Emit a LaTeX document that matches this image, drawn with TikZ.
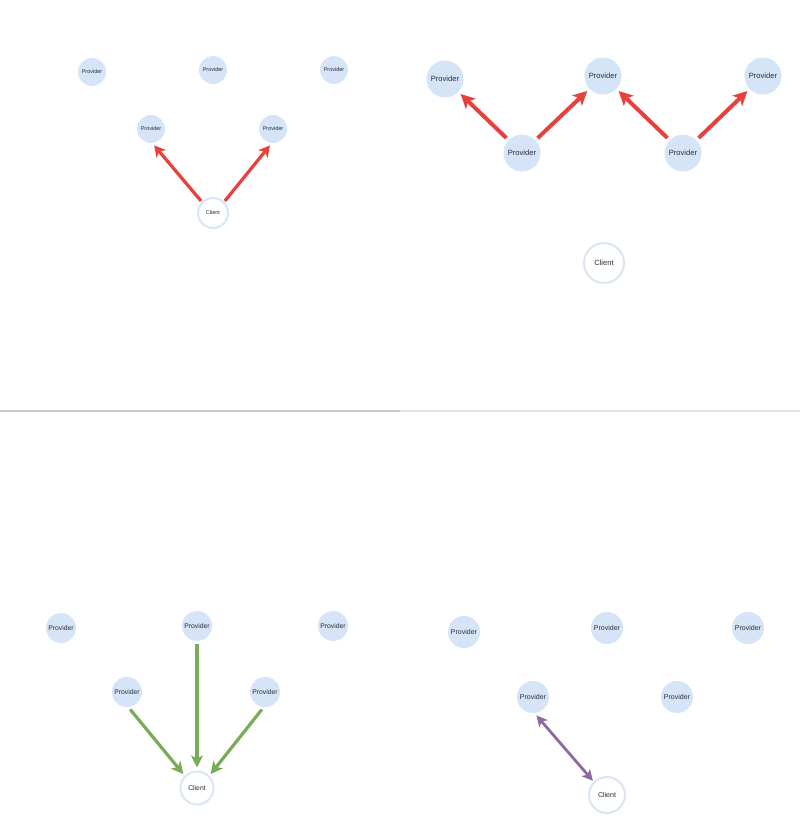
\documentclass[tikz,border=0pt]{standalone}
\usepackage{fontspec}
\setmainfont{Liberation Sans}
\usetikzlibrary{arrows.meta}
\definecolor{provfill}{RGB}{214,228,248}
\definecolor{clientline}{RGB}{218,229,245}
\definecolor{redarr}{RGB}{232,64,58}
\definecolor{greenarr}{RGB}{120,172,88}
\definecolor{purplearr}{RGB}{138,106,160}
\definecolor{textc}{RGB}{40,44,56}
\tikzset{
  prov/.style={circle,fill=provfill,inner sep=0pt,minimum size=#1,text=textc},
  prov/.default=28pt,
  client/.style={circle,fill=white,draw=clientline,line width=2pt,inner sep=0pt,minimum size=#1,text=textc},
  client/.default=30pt,
  redbig/.style={draw=redarr,line width=4pt,-{Stealth[length=14pt,width=14pt,inset=3.5pt]}},
  redsmall/.style={draw=redarr,line width=3.2pt,-{Stealth[length=11pt,width=12pt,inset=3pt]}},
  greenline/.style={draw=greenarr,line width=3.2pt,-{Stealth[length=12pt,width=12pt,inset=3pt]}},
  purpleline/.style={line width=2.8pt,draw=purplearr,{Stealth[length=11pt,width=11pt,inset=3pt]}-{Stealth[length=11pt,width=11pt,inset=3pt]}},
}
\begin{document}
\begin{tikzpicture}[x=1pt,y=-1pt]
\useasboundingbox (0,0) rectangle (800,820);
% dividers
\draw[draw={rgb,255:red,200;green,200;blue,200},line width=1.5pt] (0,411) -- (400,411);
\draw[draw={rgb,255:red,228;green,228;blue,228},line width=1.2pt] (400,411) -- (800,411);

% ---------- top-left ----------
\begin{scope}[font=\fontsize{5.5}{6}\selectfont]
\node[prov=28pt] (a1) at (92,72) {Provider};
\node[prov=28pt] (a2) at (213,70) {Provider};
\node[prov=28pt] (a3) at (334,70) {Provider};
\node[prov=28pt] (a4) at (151,129) {Provider};
\node[prov=28pt] (a5) at (273,129) {Provider};
\node[client=30pt] (ac) at (213,213) {Client};
\end{scope}
\draw[redsmall,shorten <=1pt,shorten >=3pt] (ac.135) -- (a4.-85);
\draw[redsmall,shorten <=1pt,shorten >=3pt] (ac.45) -- (a5.-95);

% ---------- top-right ----------
\begin{scope}[font=\fontsize{7.6}{8}\selectfont]
\node[prov=37pt] (b1) at (445,79) {Provider};
\node[prov=37pt] (b2) at (603,76) {Provider};
\node[prov=37pt] (b3) at (763,76) {Provider};
\node[prov=37pt] (b4) at (522,153) {Provider};
\node[prov=37pt] (b5) at (683,153) {Provider};
\node[client=40pt] (bc) at (604,263) {Client};
\end{scope}
\draw[redbig,shorten <=3pt,shorten >=3pt] (b4) -- (b1);
\draw[redbig,shorten <=3pt,shorten >=3pt] (b4) -- (b2);
\draw[redbig,shorten <=3pt,shorten >=3pt] (b5) -- (b2);
\draw[redbig,shorten <=3pt,shorten >=3pt] (b5) -- (b3);

% ---------- bottom-left ----------
\begin{scope}[font=\fontsize{6.8}{7}\selectfont]
\node[prov=30pt] (c1) at (61,628) {Provider};
\node[prov=30pt] (c2) at (197,626) {Provider};
\node[prov=30pt] (c3) at (333,626) {Provider};
\node[prov=30pt] (c4) at (127,692) {Provider};
\node[prov=30pt] (c5) at (265,692) {Provider};
\node[client=33pt] (cc) at (197,788) {Client};
\end{scope}
\draw[greenline,shorten <=3pt,shorten >=2pt] (c4.-85) -- (cc.135);
\draw[greenline,shorten <=3pt,shorten >=3pt] (c2) -- (cc);
\draw[greenline,shorten <=3pt,shorten >=2pt] (c5.-95) -- (cc.45);

% ---------- bottom-right ----------
\begin{scope}[font=\fontsize{7}{7}\selectfont]
\node[prov=32pt] (d1) at (464,632) {Provider};
\node[prov=32pt] (d2) at (607,628) {Provider};
\node[prov=32pt] (d3) at (748,628) {Provider};
\node[prov=32pt] (d4) at (533,697) {Provider};
\node[prov=32pt] (d5) at (677,697) {Provider};
\node[client=36pt] (dc) at (607,795) {Client};
\end{scope}
\draw[purpleline,shorten <=3pt,shorten >=1pt] (d4.-85) -- (dc.135);
\end{tikzpicture}
\end{document}
